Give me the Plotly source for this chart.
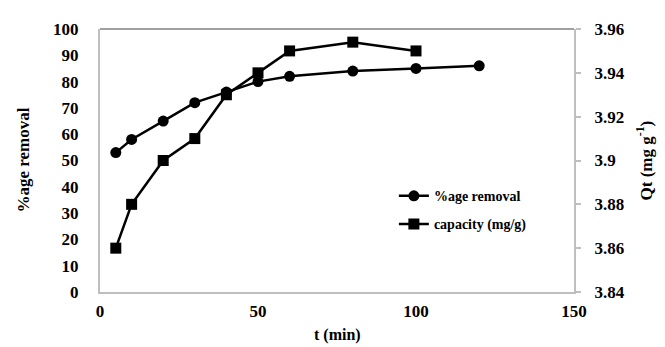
import plotly.graph_objects as go

t_removal = [5, 10, 20, 30, 40, 50, 60, 80, 100, 120]
removal = [53, 58, 65, 72, 76, 80, 82, 84, 85, 86]
t_capacity = [5, 10, 20, 30, 40, 50, 60, 80, 100]
capacity = [3.86, 3.88, 3.90, 3.91, 3.93, 3.94, 3.95, 3.954, 3.95]

x_ticks = [0, 50, 100, 150]
y1_ticks = list(range(0, 101, 10))
y2_ticks = [3.84, 3.86, 3.88, 3.90, 3.92, 3.94, 3.96]
y2_labels = ["3.84", "3.86", "3.88", "3.9", "3.92", "3.94", "3.96"]

FONT = "Liberation Serif"
GRAY = "#BFBFBF"
TICKFONT = dict(family=FONT, size=17, color="black")


def bold(labels):
    return ["<b>%s</b>" % s for s in labels]


fig = go.Figure()
fig.add_trace(go.Scatter(
    x=t_removal, y=removal, name="<b>%age removal</b>", mode="lines+markers",
    line=dict(color="black", width=2.5), legendgroup="a",
    marker=dict(symbol="circle", size=11, color="black"),
))
fig.add_trace(go.Scatter(
    x=t_capacity, y=capacity, name="<b>capacity (mg/g)</b>", mode="lines+markers",
    line=dict(color="black", width=2.5), legendgroup="b",
    marker=dict(symbol="square", size=11, color="black"),
    yaxis="y2",
))

fig.update_layout(
    width=665, height=347,
    margin=dict(l=92, r=99, t=17, b=63),
    paper_bgcolor="white", plot_bgcolor="white",
    font=dict(family=FONT, color="black"),
    showlegend=True,
    legend=dict(x=0.62, y=0.425, xanchor="left", yanchor="top",
                font=dict(family=FONT, size=14, color="black"),
                bgcolor="rgba(0,0,0,0)", tracegroupgap=7, itemwidth=30),
    xaxis=dict(range=[0, 150], tickvals=x_ticks, ticktext=bold([str(v) for v in x_ticks]),
               showgrid=False, zeroline=False,
               showline=True, linecolor=GRAY, linewidth=2, ticks="",
               tickfont=TICKFONT, ticklabelstandoff=3),
    yaxis=dict(range=[0, 100], tickvals=y1_ticks, ticktext=bold([str(v) for v in y1_ticks]),
               showgrid=False, zeroline=False,
               showline=True, linecolor=GRAY, linewidth=2,
               ticks="outside", ticklen=16, tickcolor="rgba(0,0,0,0)",
               tickfont=TICKFONT),
    yaxis2=dict(range=[3.84, 3.96], tickvals=y2_ticks, ticktext=bold(y2_labels),
                overlaying="y", side="right", showgrid=False, zeroline=False,
                showline=True, linecolor=GRAY, linewidth=2, ticks="outside",
                ticklen=5, tickcolor=GRAY, tickwidth=1.5,
                tickfont=TICKFONT, ticklabelstandoff=10),
    shapes=[dict(type="line", xref="paper", yref="paper", x0=0, x1=1, y0=1, y1=1,
                 line=dict(color="#404040", width=1))],
    annotations=[
        dict(text="<b>t (min)</b>", xref="paper", yref="paper", x=0.5, y=0,
             xanchor="center", yanchor="middle",
             yshift=-43, showarrow=False, font=dict(family=FONT, size=16)),
        dict(text="<b>%age removal</b>", xref="paper", yref="paper", x=0, y=0.5,
             xanchor="center", yanchor="middle",
             xshift=-77, textangle=-90, showarrow=False, font=dict(family=FONT, size=17)),
        dict(text="<b>Qt (mg g<sup>-1</sup>)</b>", xref="paper", yref="paper", x=1, y=0.5,
             xanchor="center", yanchor="middle",
             xshift=70, textangle=-90, showarrow=False, font=dict(family=FONT, size=17)),
    ],
)

fig.write_html("out.html")
